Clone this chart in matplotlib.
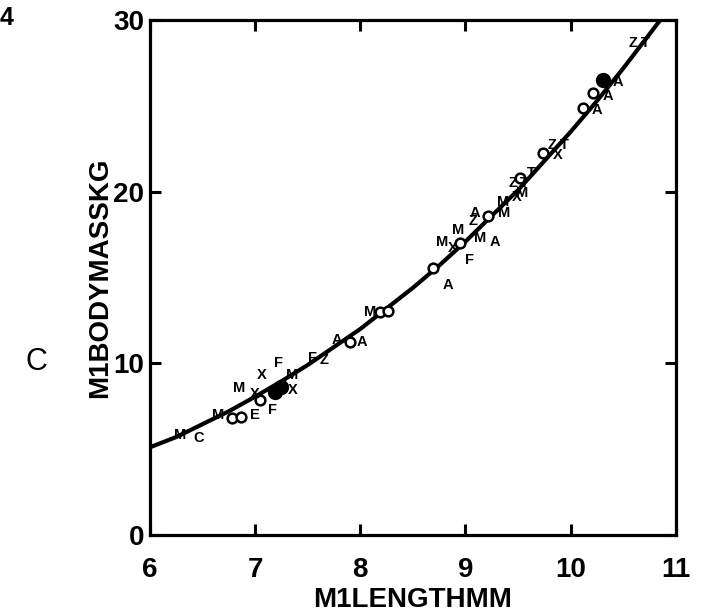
import matplotlib
matplotlib.use("Agg")
import matplotlib.pyplot as plt

plt.rcParams['font.family'] = ['Liberation Sans', 'DejaVu Sans']

# fitted curve
curve_x = [6.0, 6.25, 6.5, 6.75, 7.0, 7.25, 7.5, 7.75, 8.0, 8.25, 8.5, 8.75,
           9.0, 9.25, 9.5, 9.75, 10.0, 10.25, 10.5, 10.75, 10.85]
curve_y = [5.1, 5.7, 6.45, 7.2, 8.05, 8.95, 9.9, 10.95, 12.0, 13.2, 14.4, 15.7,
           17.1, 18.6, 20.1, 21.8, 23.5, 25.3, 27.2, 29.2, 30.0]

# letter-coded specimens
letter_x = [6.29, 6.46, 6.65, 7.0, 7.17, 6.85, 7.0, 7.06, 7.22, 7.35, 7.36,
            7.55, 7.66, 7.78, 8.02, 8.09, 8.83,
            8.78, 8.88, 9.04, 8.93, 9.07, 9.14, 9.28, 9.09, 9.37,
            9.36, 9.45, 9.56, 9.54, 9.49, 9.63,
            9.88, 9.82, 9.94, 10.25, 10.35, 10.45, 10.59, 10.71]
letter_y = [5.82, 5.65, 6.99, 7.0, 7.28, 8.56, 8.2, 9.32, 10.0, 9.32, 8.45,
            10.3, 10.2, 11.36, 11.24, 12.99, 14.56,
            17.06, 16.7, 16.0, 17.76, 18.3, 17.3, 17.06, 18.75, 18.75,
            19.4, 20.5, 20.5, 19.9, 19.7, 21.1,
            22.13, 22.7, 22.7, 24.75, 25.57, 26.4, 28.65, 28.7]
letters = ['M', 'C', 'M', 'E', 'F', 'M', 'X', 'X', 'F', 'M', 'X',
           'F', 'Z', 'A', 'A', 'M', 'A',
           'M', 'X', 'F', 'M', 'Z', 'M', 'A', 'A', 'M',
           'M', 'Z', 'T', 'M', 'X', 'T',
           'X', 'Z', 'T', 'A', 'A', 'A', 'Z', 'T']

# open circles
circ_x = [6.78, 6.87, 7.05, 7.9, 8.19, 8.26, 8.69, 8.95, 9.21, 9.52, 9.74, 10.12, 10.21]
circ_y = [6.8, 6.87, 7.86, 11.24, 12.99, 13.05, 15.55, 17.0, 18.6, 20.8, 22.25, 24.87, 25.74]

# filled blobs
blob_x = [7.19, 7.25, 10.31]
blob_y = [8.33, 8.6, 26.5]

fig = plt.figure(figsize=(7.07, 6.14), dpi=100)
ax = fig.add_axes([0.212, 0.129, 0.744, 0.838])

ax.plot(curve_x, curve_y, color='black', lw=3, zorder=2)
ax.plot(circ_x, circ_y, 'o', mfc='white', mec='black', mew=1.8, ms=7, zorder=3)
ax.plot(blob_x, blob_y, 'o', color='black', ms=10, zorder=3)
for lx, ly, s in zip(letter_x, letter_y, letters):
    ax.text(lx, ly, s, fontsize=10.5, fontweight='bold', ha='center', va='center', zorder=4)

ax.set_xlim(6, 11)
ax.set_ylim(0, 30)
ax.set_xticks([6, 7, 8, 9, 10, 11])
ax.set_yticks([0, 10, 20, 30])
ax.tick_params(direction='in', length=8, width=2.2, labelsize=20, top=True, right=True)
ax.tick_params(axis='x', pad=16)
ax.tick_params(axis='y', pad=4)
for lab in ax.get_xticklabels() + ax.get_yticklabels():
    lab.set_fontweight('bold')
for sp in ax.spines.values():
    sp.set_linewidth(2.3)

ax.set_xlabel('M1LENGTHMM', fontsize=20, fontweight='bold', labelpad=3)
ax.set_ylabel('M1BODYMASSKG', fontsize=20, fontweight='bold', labelpad=0)

fig.text(0.052, 0.41, 'C', fontsize=22, ha='center', va='center')
fig.text(0.0, 0.97, '4', fontsize=18, fontweight='bold', ha='left', va='center')

fig.savefig('out.png', dpi=100)
